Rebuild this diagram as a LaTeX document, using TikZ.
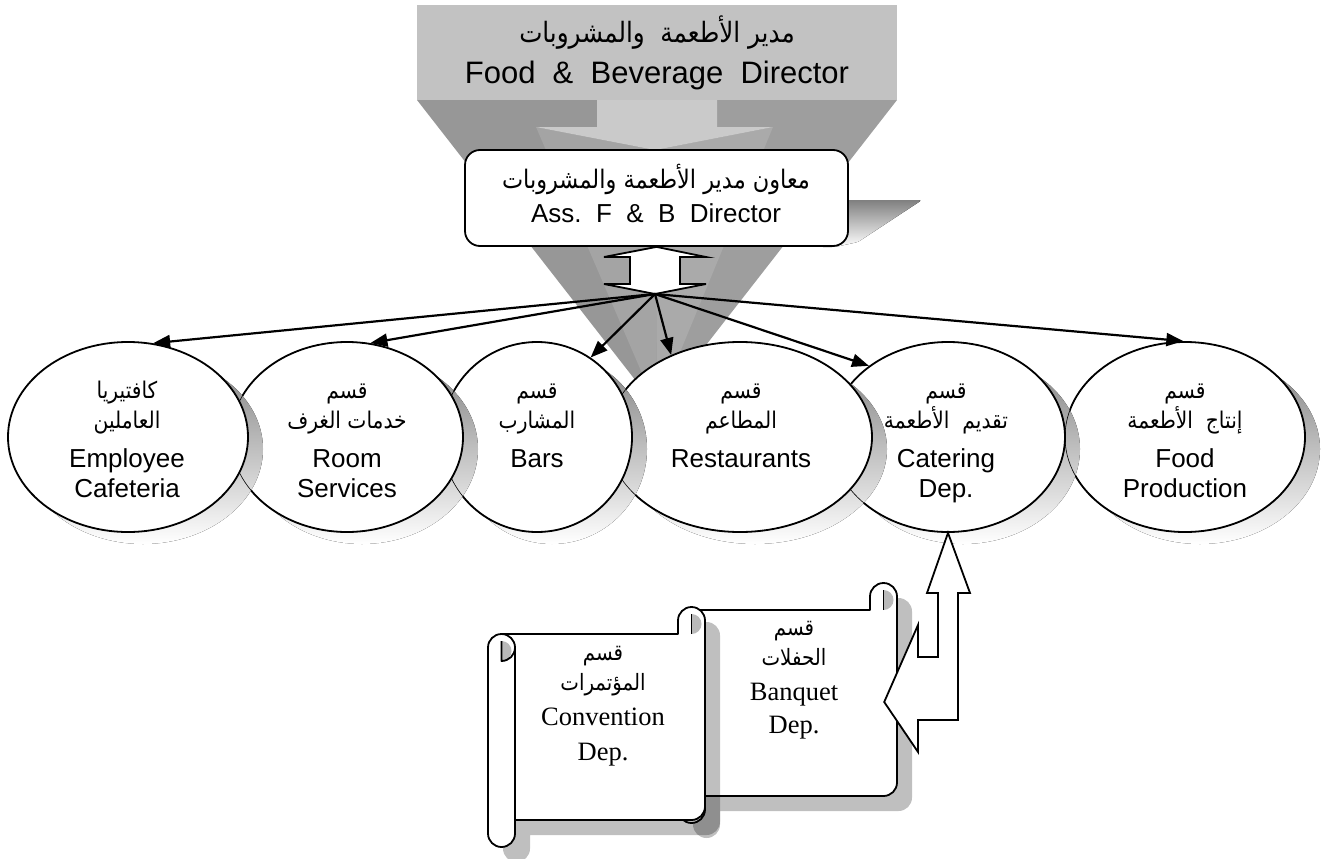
\documentclass[tikz,border=0pt]{standalone}
\usepackage{fontspec}
\setmainfont{Liberation Sans}
\newfontfamily\arabicfont[Script=Arabic,FakeStretch=0.88]{DejaVu Sans}
\newfontfamily\timesfont{Liberation Serif}
\TeXXeTstate=1
\usetikzlibrary{shapes.geometric,arrows.meta}
\newcommand\artxt[1]{{\arabicfont\beginR #1\endR}}
% outline of a scroll: left, top, right, bottom (roll 27, radius 13.5)
\newcommand\scrollpath[4]{%
  (#1,#2+40.5) arc[start angle=180,end angle=270,radius=13.5]
  -- (#3-27,#2+27) -- (#3-27,#2+13.5)
  arc[start angle=180,end angle=360,radius=13.5]
  -- (#3,#4-40.5) arc[start angle=0,end angle=90,radius=13.5]
  -- (#1+27,#4-27) -- (#1+27,#4-13.5)
  arc[start angle=0,end angle=180,radius=13.5] -- cycle}
% spirals and the front edge of the left roll
\newcommand\scrolldetail[4]{%
  \fill[spiral] (#1+13.5,#2+34) arc[start angle=270,end angle=450,radius=10] -- cycle;
  \fill[spiral] (#3-13.5,#2+7) arc[start angle=270,end angle=450,radius=10] -- cycle;
  \draw[scrollline] (#1+13.5,#2+27) arc[start angle=270,end angle=450,radius=13.5] -- (#1+13.5,#2+34);
  \draw[scrollline] (#1+27,#2+40.5) -- (#1+27,#4-27);
  \draw[scrollline] (#3-13.5,#2+7) -- (#3-13.5,#2+27);
}

\definecolor{facetop}{RGB}{194,194,194}
\definecolor{facefront}{RGB}{202,202,202}
\definecolor{sideL}{RGB}{151,151,151}
\definecolor{sideR}{RGB}{158,158,158}
\definecolor{innerL}{RGB}{164,164,164}
\definecolor{innerR}{RGB}{170,170,170}
\definecolor{shade}{RGB}{192,192,192}
\definecolor{spiral}{RGB}{185,185,185}

\begin{document}
\begin{tikzpicture}[x=1pt,y=-1pt,
  oval/.style={ellipse, draw=black, line width=1.8pt, fill=white, inner sep=0pt},
  conn/.style={line width=2.2pt, -{Triangle[length=17pt,width=13pt]}},
  hollow/.style={draw=black, line width=1.8pt, fill=white, line join=miter},
  scrollline/.style={draw=black, line width=1.8pt, line join=round},
  titletext/.style={font=\fontsize{31}{36}\selectfont, anchor=base, inner sep=0pt},
  titlear/.style={font=\fontsize{28}{32}\selectfont, anchor=base, inner sep=0pt},
  boxtext/.style={font=\fontsize{26}{30}\selectfont, anchor=base, inner sep=0pt},
  boxar/.style={font=\fontsize{25.5}{30}\selectfont, anchor=base, inner sep=0pt},
  entext/.style={font=\fontsize{26}{30}\selectfont, anchor=base, inner sep=0pt},
  artext/.style={font=\fontsize{23}{28}\selectfont, anchor=base, inner sep=0pt},
  sertext/.style={font=\timesfont\fontsize{26.5}{30}\selectfont, anchor=base, inner sep=0pt},
  serar/.style={font=\fontsize{22.5}{28}\selectfont, anchor=base, inner sep=0pt},
]
\useasboundingbox (0,0) rectangle (1325,859);

% ---- director banner with its extruded sides ----
\coordinate (vp) at (657,408);
\fill[sideL] (417,100) -- (657,100) -- (vp) -- cycle;
\fill[sideR] (657,100) -- (897,100) -- (vp) -- cycle;
\fill[innerL] (536,127) -- (655,150) -- (vp) -- cycle;
\fill[innerR] (773,127) -- (655,150) -- (vp) -- cycle;
\node[fill=facetop, minimum width=480pt, minimum height=95pt, inner sep=0pt] (dir) at (657,52.5) {};
\fill[facefront] (597,100) -- (717,100) -- (717,127) -- (773,127) -- (655,150) -- (536,127) -- (597,127) -- cycle;
\node[titlear] (dir-ar) at (657,43) {\artxt{مدير الأطعمة \ والمشروبات}};
\node[titletext] (dir-en) at (657,83) {Food\ \ \&\ \ Beverage\ \ Director};

% ---- assistant director ----
\fill[shade, rounded corners=3pt] (820,200) -- (922,200) -- (858,242) -- (835,247) -- (820,247) -- cycle;
\node[draw=black, line width=1.8pt, fill=white, rounded corners=15pt,
      minimum width=383pt, minimum height=96pt, inner sep=0pt] (ass) at (656.5,198) {};
\node[boxar] (ass-ar) at (656,188) {\artxt{معاون مدير الأطعمة والمشروبات}};
\node[boxtext] (ass-en) at (656,222) {Ass.\ \ F\ \ \&\ \ B\ \ Director};

% two-way link below the assistant
\coordinate (hub) at (655,294);
\draw[hollow] (ass.south) -- (706,257) -- (680,257) -- (680,284) -- (706,284) -- (hub)
  -- (604,284) -- (630,284) -- (630,257) -- (604,257) -- cycle;

% ---- departments (right to left, each over its right neighbour) ----
\fill[shade] (1200,449) ellipse[x radius=120, y radius=95];
\node[oval, minimum width=240pt, minimum height=190pt] (e6) at (1185,437) {};

\fill[shade] (963,449) ellipse[x radius=117, y radius=95];
\draw[line width=0.6pt] (1185,437) ellipse[x radius=120, y radius=95];
\node[oval, minimum width=234pt, minimum height=190pt] (e5) at (948,437) {};

\fill[shade] (755,449) ellipse[x radius=132, y radius=95];
\draw[line width=0.6pt] (948,437) ellipse[x radius=117, y radius=95];
\node[oval, minimum width=264pt, minimum height=190pt] (e4) at (740,437) {};

\fill[shade] (552,449) ellipse[x radius=95, y radius=95];
\draw[line width=0.6pt] (740,437) ellipse[x radius=132, y radius=95];
\node[oval, minimum width=190pt, minimum height=190pt] (e3) at (537,437) {};

\fill[shade] (362,449) ellipse[x radius=116, y radius=95];
\draw[line width=0.6pt] (537,437) ellipse[x radius=95, y radius=95];
\node[oval, minimum width=232pt, minimum height=190pt] (e2) at (347,437) {};

\fill[shade] (143,449) ellipse[x radius=120, y radius=95];
\draw[line width=0.6pt] (347,437) ellipse[x radius=116, y radius=95];
\node[oval, minimum width=240pt, minimum height=190pt] (e1) at (128,437) {};

% department labels
\node[artext] (t1a) at (127,398) {\artxt{كافتيريا}};
\node[artext] (t1b) at (127,428) {\artxt{العاملين}};
\node[entext] (t1c) at (127,467) {Employee};
\node[entext] (t1d) at (127,497) {Cafeteria};

\node[artext] (t2a) at (347,398) {\artxt{قسم}};
\node[artext] (t2b) at (347,428) {\artxt{خدمات الغرف}};
\node[entext] (t2c) at (347,467) {Room};
\node[entext] (t2d) at (347,497) {Services};

\node[artext] (t3a) at (537,398) {\artxt{قسم}};
\node[artext] (t3b) at (537,428) {\artxt{المشارب}};
\node[entext] (t3c) at (537,467) {Bars};

\node[artext] (t4a) at (741,398) {\artxt{قسم}};
\node[artext] (t4b) at (741,428) {\artxt{المطاعم}};
\node[entext] (t4c) at (741,467) {Restaurants};

\node[artext] (t5a) at (946,398) {\artxt{قسم}};
\node[artext] (t5b) at (946,428) {\artxt{تقديم \ الأطعمة}};
\node[entext] (t5c) at (946,467) {Catering};
\node[entext] (t5d) at (946,497) {Dep.};

\node[artext] (t6a) at (1185,398) {\artxt{قسم}};
\node[artext] (t6b) at (1185,428) {\artxt{إنتاج \ الأطعمة}};
\node[entext] (t6c) at (1185,467) {Food};
\node[entext] (t6d) at (1185,497) {Production};

% reporting lines
\draw[conn] (hub) -- (e1.75);
\draw[conn] (hub) -- (e2.76);
\draw[conn] (hub) -- (e3.56);
\draw[conn] (hub) -- (e4.130);
\draw[conn] (hub) -- (e5.138);
\draw[conn] (hub) -- (e6.91);

% ---- banquet and convention scrolls ----
\fill[black, fill opacity=0.25, shift={(15,15)}] \scrollpath{678}{583}{897}{823};
\draw[scrollline, fill=white] \scrollpath{678}{583}{897}{823};
\scrolldetail{678}{583}{897}{823}
\node[fill=none, inner sep=0pt, minimum width=192pt, minimum height=186pt] (banq) at (788,702) {};

\fill[black, fill opacity=0.25, shift={(15,15)}] \scrollpath{488}{607}{705}{847};
\draw[scrollline, fill=white] \scrollpath{488}{607}{705}{847};
\scrolldetail{488}{607}{705}{847}
\node[fill=none, inner sep=0pt, minimum width=190pt, minimum height=186pt] (conv) at (610,726) {};

\node[serar] (c1) at (603,660) {\artxt{قسم}};
\node[serar] (c2) at (603,690) {\artxt{المؤتمرات}};
\node[sertext] (c3) at (603,725) {Convention};
\node[sertext] (c4) at (603,760) {Dep.};

\node[serar] (b1) at (794,635) {\artxt{قسم}};
\node[serar] (b2) at (794,665) {\artxt{الحفلات}};
\node[sertext] (b3) at (794,700) {Banquet};
\node[sertext] (b4) at (794,733) {Dep.};

% banquet reports up to catering
\draw[hollow] (e5.south) -- (970,593) -- (958,593) -- (958,720) -- (918,720) -- (918,752)
  -- (banq.east) -- (918,625) -- (918,657) -- (938,657) -- (938,593) -- (927,593) -- cycle;
\end{tikzpicture}
\end{document}
